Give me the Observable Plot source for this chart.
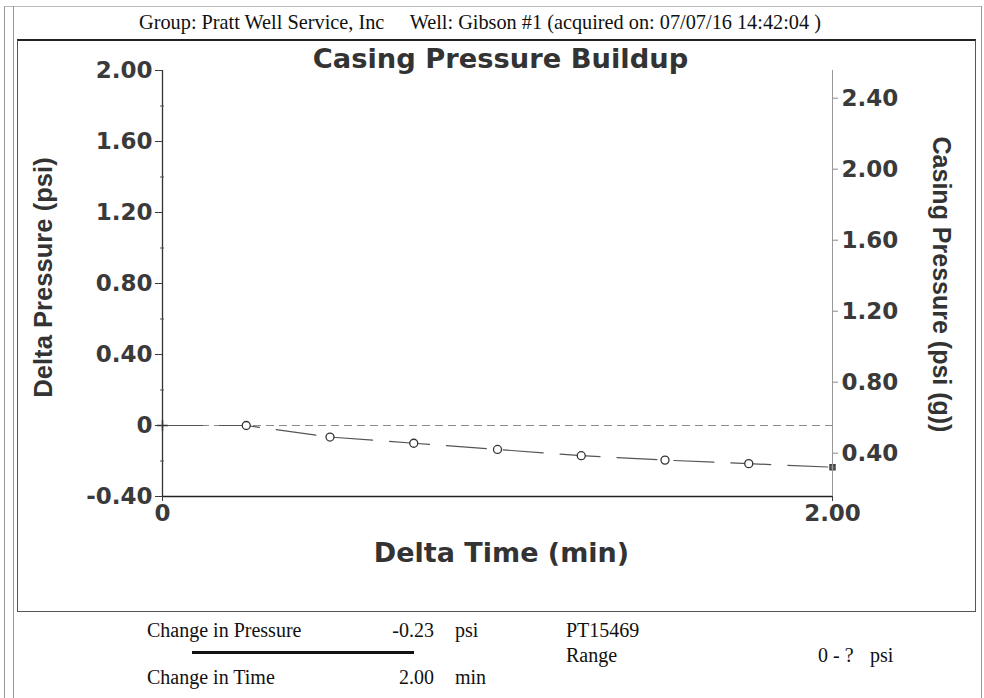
<!DOCTYPE html>
<html>
<head>
<meta charset="utf-8">
<script src="https://cdn.jsdelivr.net/npm/d3@7"></script>
<script src="https://cdn.jsdelivr.net/npm/@observablehq/plot@0.6"></script>
<style>
  body { margin: 0; background: #fff; }
  #page { position: relative; width: 984px; height: 698px; overflow: hidden; background: #fff; }
  .ln { position: absolute; background: #999; }
  .t { position: absolute; font-family: "Liberation Serif", "Times New Roman", serif; font-size: 20px; line-height: 24px; color: #111; white-space: nowrap; }
  #chart { position: absolute; left: 0; top: 0; }
</style>
</head>
<body>
<div id="page">
  <div class="ln" style="left:4px;top:6px;width:978px;height:1px;background:#bbb"></div>
  <div class="ln" style="left:4px;top:6px;width:1px;height:692px;"></div>
  <div class="ln" style="left:13px;top:6px;width:1px;height:692px;"></div>
  <div class="ln" style="left:981px;top:6px;width:1px;height:692px;"></div>
  <div style="position:absolute;left:17px;top:39px;width:957px;height:570px;border:1.5px solid #555;border-top:2px solid #222;"></div>
  <div class="t" style="left:0;top:10px;width:960px;text-align:center;font-size:20.3px;">Group: Pratt Well Service, Inc&nbsp;&nbsp;&nbsp;&nbsp;&nbsp;Well: Gibson #1 (acquired on: 07/07/16 14:42:04 )</div>
  <div id="chart"></div>
  <div class="t" style="left:147px;top:618px;">Change in Pressure</div>
  <div class="t" style="left:334px;top:618px;width:100px;text-align:right;">-0.23</div>
  <div class="t" style="left:455px;top:618px;">psi</div>
  <div class="t" style="left:566px;top:618px;">PT15469</div>
  <div style="position:absolute;left:192px;top:651px;width:222px;height:3px;background:#111;"></div>
  <div class="t" style="left:147px;top:665px;">Change in Time</div>
  <div class="t" style="left:334px;top:665px;width:100px;text-align:right;">2.00</div>
  <div class="t" style="left:455px;top:665px;">min</div>
  <div class="t" style="left:566px;top:643px;">Range</div>
  <div class="t" style="left:818px;top:643px;">0 - ?</div>
  <div class="t" style="left:870px;top:643px;">psi</div>
</div>
<script>
// Data
const times = [0, 0.25, 0.5, 0.75, 1.0, 1.25, 1.5, 1.75, 2.0];
const deltaPressure = [0, 0.0, -0.065, -0.10, -0.135, -0.17, -0.195, -0.215, -0.235];
const casingStart = 0.556; // casing pressure at t = 0 (psi g)
const leftTicks = [-0.4, 0, 0.4, 0.8, 1.2, 1.6, 2.0];
const leftMinorTicks = [-0.2, 0.2, 0.6, 1.0, 1.4, 1.8];
const rightTicks = [0.40, 0.80, 1.20, 1.60, 2.00, 2.40];
const xTicks = [0, 2.0];

const data = times.map((t, i) => ({t, dp: deltaPressure[i]}));
const inner = data.slice(1, -1);
const first = data.slice(0, 1);
const last = data.slice(-1);

const fmt = d => d === 0 ? "0" : d.toFixed(2);
const tickFont = {fontSize: 23, fontWeight: "bold", fontFamily: "DejaVu Sans"};

const chart = Plot.plot({
  width: 984,
  height: 698,
  marginLeft: 162,
  marginRight: 152,
  marginTop: 70,
  marginBottom: 202,
  style: {background: "transparent", fontFamily: "DejaVu Sans", overflow: "visible"},
  x: {domain: [0, 2]},
  y: {domain: [-0.4, 2.0]},
  marks: [
    Plot.ruleY([0], {stroke: "#8a8a8a", strokeDasharray: "8,5", strokeWidth: 1}),
    Plot.line(data, {x: "t", y: "dp", stroke: "#555", strokeWidth: 1.2, strokeDasharray: "40,17"}),
    Plot.dot(inner, {x: "t", y: "dp", r: 4, stroke: "#333", strokeWidth: 1.3, fill: "white"}),
    Plot.dot(first, {x: "t", y: "dp", symbol: "plus", r: 3.5, stroke: "#333", strokeWidth: 1.5}),
    Plot.dot(last, {x: "t", y: "dp", symbol: "square", r: 2.8, fill: "#666", stroke: "#444"}),
    Plot.ruleX([2], {stroke: "#999", strokeWidth: 1}),
    Plot.ruleX([0], {stroke: "#333", strokeWidth: 1.3}),
    Plot.ruleY([-0.4], {stroke: "#222", strokeWidth: 1.3}),
    Plot.axisY({anchor: "left", ticks: leftTicks, tickFormat: fmt, tickSize: 7, tickPadding: 3, label: null, color: "#3a3a3a", ...tickFont}),
    Plot.axisY({anchor: "left", ticks: leftMinorTicks, tickFormat: () => "", tickSize: 4, dx: 2, label: null, stroke: "#555"}),
    Plot.axisY({anchor: "right", ticks: rightTicks.map(c => c - casingStart), tickFormat: d => (d + casingStart).toFixed(2), tickSize: 5, tickPadding: 4, label: null, stroke: "#888", fill: "#3a3a3a", ...tickFont}),
    Plot.axisX({anchor: "bottom", ticks: xTicks, tickFormat: fmt, tickSize: 5, tickPadding: 3, label: null, color: "#3a3a3a", ...tickFont}),
    Plot.text(["Casing Pressure Buildup"], {text: d => d, frameAnchor: "top", textAnchor: "middle", lineAnchor: "middle", dx: 3, dy: -11, fontSize: 27.3, fontWeight: "bold", fontFamily: "DejaVu Sans", fill: "#333"}),
    Plot.text(["Delta Time (min)"], {text: d => d, frameAnchor: "bottom", textAnchor: "middle", lineAnchor: "middle", dx: 4, dy: 57, fontSize: 27, fontWeight: "bold", fontFamily: "DejaVu Sans", fill: "#333"}),
    Plot.text(["Delta Pressure (psi)"], {text: d => d, frameAnchor: "left", textAnchor: "middle", lineAnchor: "middle", dx: -119, dy: -6, rotate: -90, fontSize: 25.6, fontWeight: "bold", fontFamily: "Liberation Sans", fill: "#333"}),
    Plot.text(["Casing Pressure (psi (g))"], {text: d => d, frameAnchor: "right", textAnchor: "middle", lineAnchor: "middle", dx: 108, dy: 1, rotate: 90, fontSize: 25, fontWeight: "bold", fontFamily: "Liberation Sans", fill: "#333"})
  ]
});
document.getElementById("chart").appendChild(chart);
</script>
</body>
</html>
